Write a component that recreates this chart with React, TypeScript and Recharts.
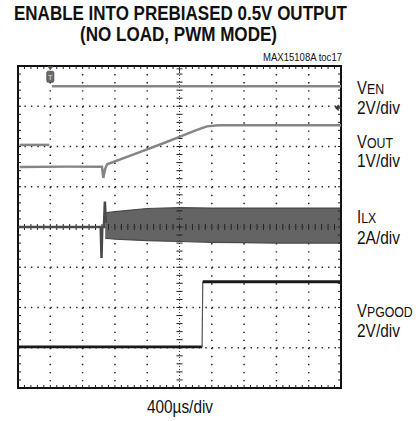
import React from 'react';
import {
  ComposedChart,
  Line,
  Area,
  XAxis,
  YAxis,
  CartesianGrid,
  ReferenceLine,
  ReferenceDot,
  ReferenceArea,
} from 'recharts';

// ---- data (time in divisions of 400µs, amplitude in screen divisions, 0 = centre) ----
const title1 = 'ENABLE INTO PREBIASED 0.5V OUTPUT';
const title2 = '(NO LOAD, PWM MODE)';
const partLabel = 'MAX15108A toc17';
const timeLabel = '400µs/div';

const venLow = [
  { t: 0.05, v: 2.04 },
  { t: 0.97, v: 2.04 },
];
const venHigh = [
  { t: 1.05, v: 3.5 },
  { t: 10, v: 3.5 },
];

const vout = [
  { t: 0.05, v: 1.49 },
  { t: 1.5, v: 1.5 },
  { t: 2.6, v: 1.5 },
  { t: 2.64, v: 1.22 },
  { t: 2.7, v: 1.45 },
  { t: 2.76, v: 1.56 },
  { t: 3.5, v: 1.78 },
  { t: 4.5, v: 2.08 },
  { t: 5.0, v: 2.24 },
  { t: 5.5, v: 2.4 },
  { t: 5.85, v: 2.5 },
  { t: 6.2, v: 2.53 },
  { t: 10, v: 2.53 },
];

const ilxIdle = [
  { t: 0.02, v: 0.0 },
  { t: 2.56, v: 0.0 },
  { t: 2.585, v: -0.77 },
  { t: 2.61, v: 0.0 },
  { t: 2.66, v: 0.0 },
  { t: 2.69, v: 0.63 },
  { t: 2.72, v: 0.1 },
];

const ilxBand = [
  { t: 2.7, band: [-0.28, 0.35] },
  { t: 3.0, band: [-0.3, 0.38] },
  { t: 3.5, band: [-0.32, 0.42] },
  { t: 4.0, band: [-0.34, 0.46] },
  { t: 5.0, band: [-0.36, 0.48] },
  { t: 6.0, band: [-0.38, 0.47] },
  { t: 7.0, band: [-0.39, 0.47] },
  { t: 8.0, band: [-0.4, 0.47] },
  { t: 9.0, band: [-0.4, 0.47] },
  { t: 10, band: [-0.4, 0.47] },
];

const pgoodLow = [
  { t: 0.02, v: -2.98 },
  { t: 5.7, v: -2.98 },
];
const pgoodEdge = [
  { t: 5.7, v: -2.98 },
  { t: 5.72, v: -1.36 },
];
const pgoodHigh = [
  { t: 5.72, v: -1.36 },
  { t: 10, v: -1.36 },
];

const xMajor = [1, 2, 3, 4, 6, 7, 8, 9];
const yMajor = [3, 2, 1, -1, -2, -3];
const xMinor = Array.from({ length: 49 }, (_, i) => +((i + 1) * 0.2).toFixed(2));
const yMinor = Array.from({ length: 39 }, (_, i) => +(-4 + (i + 1) * 0.2).toFixed(2));

const W = 416;
const H = 421;
const MARGIN = { top: 66, right: 75, bottom: 33, left: 18 };
const FONT = "'Liberation Sans', Arial, sans-serif";
const TX = 0.095; // tick length in x divisions
const TY = 0.075; // tick length in y divisions

const TriggerMark = (props: any) => {
  const { cx, cy } = props;
  return (
    <g>
      <polygon points={`${cx - 3},${cy - 11} ${cx + 3},${cy - 11} ${cx},${cy - 7}`} fill="#555" />
      <rect x={cx - 3.5} y={cy - 6} width={7} height={11} rx={1.5} fill="#6a6a6a" stroke="#444" strokeWidth={0.8} />
      <text x={cx} y={cy + 3} fontSize={8} fontFamily={FONT} fill="#ddd" textAnchor="middle">
        T
      </text>
    </g>
  );
};

const GroundMark = (props: any) => {
  const { cx, cy } = props;
  return (
    <g>
      <polygon points={`${cx - 3},${cy} ${cx + 1},${cy - 3.5} ${cx + 1},${cy + 3.5}`} fill="#333" />
      <line x1={cx} y1={cy} x2={cx + 4} y2={cy} stroke="#333" strokeWidth={1.5} />
    </g>
  );
};

const CenterMark = (props: any) => {
  const { cx, cy } = props;
  return (
    <g>
      <line x1={cx - 3} y1={cy} x2={cx + 3} y2={cy} stroke="#333" strokeWidth={1} />
      <line x1={cx} y1={cy - 3} x2={cx} y2={cy + 3} stroke="#333" strokeWidth={1} />
    </g>
  );
};

const seg = (key: string, a: { x: number; y: number }, b: { x: number; y: number }) => (
  <ReferenceLine key={key} segment={[a, b]} stroke="#222" strokeWidth={1} ifOverflow="extendDomain" />
);

const SubLabel = ({ x, y, main, sub }: { x: number; y: number; main: string; sub: string }) => (
  <text transform={`translate(${x},${y}) scale(0.85,1)`} x={0} y={0} fontSize={17.5}>
    {main}
    <tspan fontSize={14.5}>{sub}</tspan>
  </text>
);

export default function App() {
  return (
    <div style={{ position: 'absolute', left: 0, top: 0, width: W, height: H, background: '#fff' }}>
      <ComposedChart width={W} height={H} data={vout} margin={MARGIN}>
        <XAxis type="number" dataKey="t" domain={[0, 10]} hide allowDataOverflow />
        <YAxis type="number" domain={[-4, 4]} hide allowDataOverflow />
        <CartesianGrid
          vertical={false}
          horizontalValues={yMajor}
          stroke="#222"
          strokeWidth={1.5}
          strokeDasharray="1.4 5.06"
        />
        <CartesianGrid
          horizontal={false}
          verticalValues={xMajor}
          stroke="#222"
          strokeWidth={1.5}
          strokeDasharray="1.4 6.65"
        />
        <ReferenceLine x={5} stroke="#444" strokeWidth={1} strokeDasharray="1 2" />
        <ReferenceLine y={0} stroke="#444" strokeWidth={1} strokeDasharray="1 2" />
        {yMinor.map((v) => seg(`cy${v}`, { x: 5 - TX, y: v }, { x: 5 + TX, y: v }))}
        {xMinor.map((t) => seg(`cx${t}`, { x: t, y: -TY }, { x: t, y: TY }))}
        {xMinor.map((t) => seg(`bt${t}`, { x: t, y: -4 }, { x: t, y: -4 + TY }))}
        {xMinor.map((t) => seg(`tt${t}`, { x: t, y: 4 }, { x: t, y: 4 - TY }))}
        {yMinor.map((v) => seg(`lt${v}`, { x: 0, y: v }, { x: TX, y: v }))}
        {yMinor.map((v) => seg(`rt${v}`, { x: 10, y: v }, { x: 10 - TX, y: v }))}

        <Area
          data={ilxBand}
          dataKey="band"
          type="linear"
          stroke="#484848"
          strokeWidth={1.2}
          fill="#646464"
          fillOpacity={1}
          isAnimationActive={false}
          dot={false}
          activeDot={false}
        />
        <Line data={ilxIdle} dataKey="v" type="linear" stroke="#4a4a4a" strokeWidth={2.5} dot={false} isAnimationActive={false} />
        <Line data={venLow} dataKey="v" type="linear" stroke="#858585" strokeWidth={2.5} dot={false} isAnimationActive={false} />
        <Line data={venHigh} dataKey="v" type="linear" stroke="#858585" strokeWidth={2.5} dot={false} isAnimationActive={false} />
        <Line data={vout} dataKey="v" type="linear" stroke="#858585" strokeWidth={2.5} dot={false} isAnimationActive={false} />
        <Line data={pgoodLow} dataKey="v" type="linear" stroke="#1a1a1a" strokeWidth={2.8} dot={false} isAnimationActive={false} />
        <Line data={pgoodEdge} dataKey="v" type="linear" stroke="#555" strokeWidth={1.2} dot={false} isAnimationActive={false} />
        <Line data={pgoodHigh} dataKey="v" type="linear" stroke="#1a1a1a" strokeWidth={2.8} dot={false} isAnimationActive={false} />

        <ReferenceArea x1={0} x2={10} y1={-4} y2={4} fill="none" fillOpacity={0} stroke="#111" strokeWidth={2} />

        <ReferenceDot x={1.0} y={3.72} r={0} shape={TriggerMark} />
        <ReferenceDot x={9.9} y={2.96} r={0} shape={GroundMark} />
        <ReferenceDot x={5} y={3.93} r={0} shape={CenterMark} />
      </ComposedChart>

      <svg
        width={W}
        height={H}
        style={{ position: 'absolute', left: 0, top: 0, pointerEvents: 'none' }}
      >
        <g fontFamily={FONT} fill="#111">
          <text x={180.5} y={20} fontSize={20} fontWeight="bold" textAnchor="middle" textLength={333} lengthAdjust="spacingAndGlyphs">
            {title1}
          </text>
          <text x={178.5} y={41} fontSize={20} fontWeight="bold" textAnchor="middle" textLength={197} lengthAdjust="spacingAndGlyphs">
            {title2}
          </text>
          <text x={342} y={61} fontSize={11} textAnchor="end" textLength={79} lengthAdjust="spacingAndGlyphs">
            {partLabel}
          </text>

          <SubLabel x={357} y={94} main="V" sub="EN" />
          <text x={357} y={113.5} fontSize={17.5} textLength={43} lengthAdjust="spacingAndGlyphs">2V/div</text>

          <SubLabel x={357} y={148} main="V" sub="OUT" />
          <text x={357} y={167} fontSize={17.5} textLength={43} lengthAdjust="spacingAndGlyphs">1V/div</text>

          <SubLabel x={357} y={223} main="I" sub="LX" />
          <text x={357} y={243.5} fontSize={17.5} textLength={43} lengthAdjust="spacingAndGlyphs">2A/div</text>

          <SubLabel x={357} y={317} main="V" sub="PGOOD" />
          <text x={357} y={336.5} fontSize={17.5} textLength={43} lengthAdjust="spacingAndGlyphs">2V/div</text>

          <text x={180} y={413} fontSize={17.5} textAnchor="middle" textLength={66} lengthAdjust="spacingAndGlyphs">
            {timeLabel}
          </text>
        </g>
      </svg>
    </div>
  );
}
